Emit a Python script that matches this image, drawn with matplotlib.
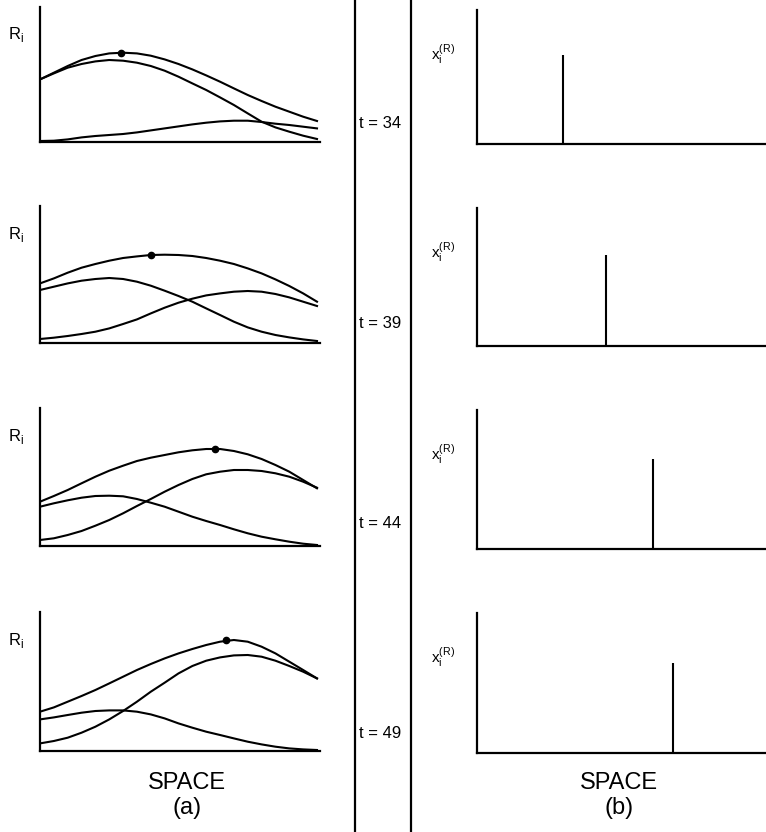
import matplotlib
matplotlib.use("Agg")
import matplotlib.pyplot as plt

plt.rcParams["font.family"] = ["Liberation Sans", "DejaVu Sans"]

# values (heights above the axis, in px-like units)
space = [0, 0.5, 1, 1.5, 2, 2.5, 3, 3.5, 4, 4.5, 5,
         5.5, 6, 6.5, 7, 7.5, 8, 8.5, 9, 9.5, 10]
times = [34, 39, 44, 49]

total = [
    [62.3, 69, 75.7, 81.7, 85.7, 88.3, 89, 88.3, 86, 82.3, 77.7,
     72.3, 66.3, 60, 53.3, 46.7, 40.7, 35, 30, 25, 20.7],
    [59.3, 64.3, 70, 75, 78.7, 82, 84.7, 86.3, 87.7, 88, 87.7,
     86.7, 84.7, 82, 78.7, 74.3, 69.3, 63.3, 56.7, 49.3, 41],
    [44.3, 50, 56, 62.7, 69.3, 75.3, 80.3, 85, 88.3, 91, 93.7,
     95.7, 97, 97, 95, 91.7, 87, 81, 74.3, 66, 57.7],
    [39, 43.3, 49, 54.7, 60.7, 67.3, 74, 80.7, 86.7, 92.3, 97.3,
     101.7, 105.7, 109, 110.7, 109, 104, 97.3, 89, 80.7, 72.3],
]
left_peak = [
    [62.3, 68.3, 74, 77.7, 80.3, 81.7, 81, 79, 75.7, 71, 65,
     58.3, 51.7, 44.3, 36.7, 28.3, 20, 14.3, 10, 6, 2.7],
    [52.7, 56, 59.3, 62, 63.7, 64.7, 63.7, 61, 57, 52, 46.7,
     41, 34.3, 27.7, 21, 15.3, 11, 7.7, 5.3, 3.3, 1.7],
    [39.3, 42.7, 45.7, 48.3, 50, 50.3, 49.7, 47, 43.3, 39.3, 34.3,
     29.3, 25, 21, 16.7, 12.7, 9.3, 6.7, 4.3, 2.3, 1],
    [31.3, 33.3, 35.7, 38, 39.7, 40.3, 40.3, 39, 36.3, 32.3, 27.3,
     23, 19, 15.7, 12.3, 9, 6.3, 4, 2.3, 1.3, 0.7],
]
right_peak = [
    [0.7, 1, 2.3, 4.3, 5.7, 6.7, 7.7, 9.3, 11.3, 13.3, 15.3,
     17.3, 19, 20.3, 21, 21, 19.7, 18, 16.7, 15, 13.3],
    [3.7, 5, 6.7, 8.7, 11, 14.3, 18.7, 23.3, 29.3, 35, 40,
     44, 47.3, 49.3, 51, 51.7, 51, 48.7, 45.3, 41, 36.7],
    [6, 7.7, 11, 15, 20.3, 26, 32.7, 40, 47, 54.3, 61,
     67, 71.7, 74.3, 76, 76, 75, 72.7, 69.3, 64.3, 58.3],
    [7.3, 9.7, 13, 18, 24, 31.3, 39.7, 49, 59, 68, 77.3,
     84.7, 90, 93.3, 95.3, 95.7, 94, 90, 84.7, 79, 72.3],
]
peak_x = [2.91, 4.0, 6.32, 6.7]
peak_y = [89.0, 88.0, 97.3, 110.3]

spike_x = [3.1, 4.66, 6.35, 7.08]
spike_h = [89, 91, 90, 90]

W, H = 766, 832
# panel rows: (top px, bottom px) for left and right columns
left_rows = [(7, 141.7), (206, 342.7), (408, 546), (612, 750.7)]
right_rows = [(10, 144), (208, 346), (410, 549), (613, 753)]
unit = 27.7  # px per space unit

fig = plt.figure(figsize=(W / 100, H / 100), dpi=100)
lw = 1.5


def px_axes(x0, x1, top, bottom):
    return fig.add_axes([x0 / W, 1 - bottom / H, (x1 - x0) / W, (bottom - top) / H])


def bare(ax):
    for s in ("top", "right"):
        ax.spines[s].set_visible(False)
    for s in ("left", "bottom"):
        ax.spines[s].set_linewidth(1.6)
    ax.set_xticks([])
    ax.set_yticks([])
    ax.patch.set_alpha(0)


for i in range(4):
    top, bot = left_rows[i]
    ax = px_axes(40, 320, top, bot)
    bare(ax)
    ax.plot(space, total[i], color="black", lw=lw)
    ax.plot(space, left_peak[i], color="black", lw=lw)
    ax.plot(space, right_peak[i], color="black", lw=lw)
    ax.plot(peak_x[i], peak_y[i], "o", color="black", ms=4.5)
    ax.set_xlim(0, (320 - 40) / unit)
    ax.set_ylim(0, bot - top)
    fig.text(8 / W, 1 - (top + 28) / H, "R$_\\mathregular{i}$", fontsize=12,
             va="center", ha="left")

    top, bot = right_rows[i]
    ax = px_axes(477, 800, top, bot)
    bare(ax)
    ax.vlines(spike_x[i], 0, spike_h[i], color="black", lw=lw)
    ax.set_xlim(0, (800 - 477) / unit)
    ax.set_ylim(0, bot - top)
    fig.text(431 / W, 1 - (top + 45) / H, "x$_\\mathregular{i}^\\mathregular{(R)}$",
             fontsize=11, va="center", ha="left")

# middle strip holding the time labels
strip = px_axes(355, 411, 0, H)
strip.set_xticks([])
strip.set_yticks([])
strip.spines["top"].set_visible(False)
strip.spines["bottom"].set_visible(False)
strip.spines["left"].set_linewidth(1.6)
strip.spines["right"].set_linewidth(1.6)
strip.set_xlim(0, 1)
strip.set_ylim(H, 0)
for t, y in zip(times, [123, 323, 523, 733]):
    strip.text(0.08, y, f"t = {t}", fontsize=12, va="center", ha="left")

fig.text(187 / W, 1 - 783 / H, "SPACE", fontsize=17, ha="center", va="center")
fig.text(187 / W, 1 - 808 / H, "(a)", fontsize=17, ha="center", va="center")
fig.text(619 / W, 1 - 783 / H, "SPACE", fontsize=17, ha="center", va="center")
fig.text(619 / W, 1 - 808 / H, "(b)", fontsize=17, ha="center", va="center")

fig.savefig("out.png", dpi=100)
